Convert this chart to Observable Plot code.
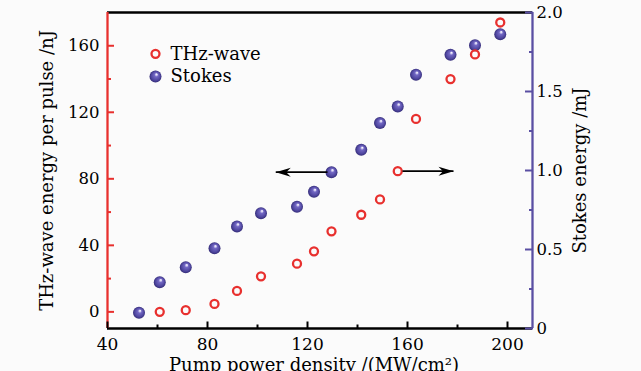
<!DOCTYPE html>
<html>
<head>
<meta charset="utf-8">
<script src="https://cdn.jsdelivr.net/npm/d3@7"></script>
<script src="https://cdn.jsdelivr.net/npm/@observablehq/plot@0.6"></script>
<style>
  html, body { margin: 0; padding: 0; background: #ffffff; }
  #chart svg { display: block; }
</style>
</head>
<body>
<div id="chart"></div>
<script>
// ---- data ----
const pump   = [52.6, 60.9, 71.3, 82.8, 91.8, 101.4, 115.8, 122.6, 129.6, 141.5, 149.0, 156.1, 163.4, 177.2, 187.0, 197.1];
const thz    = [null, 0, 1, 4.8, 12.6, 21.4, 29, 36.4, 48.4, 58.4, 67.6, 84.6, 116, 140, 154.8, 174];      // nJ
const stokes = [0.099, 0.293, 0.388, 0.508, 0.646, 0.73, 0.77, 0.865, 0.989, 1.131, 1.30, 1.405, 1.606, 1.732, 1.793, 1.863]; // mJ

const xDomain = [40, 210];
const yDomain = [-10, 180];     // left axis (nJ)
const rDomain = [0, 2.0];       // right axis (mJ)

const xMajor = [40, 80, 120, 160, 200];
const xMinor = [60, 100, 140, 180];
const yMajor = [0, 40, 80, 120, 160];
const yMinor = [20, 60, 100, 140];
const rMajor = [0, 0.5, 1.0, 1.5, 2.0];
const rMinor = [0.25, 0.75, 1.25, 1.75];
const rLabels = ["0", "0.5", "1.0", "1.5", "2.0"];

const seriesNames = ["THz-wave", "Stokes"];
const xTitle = "Pump power density /(MW/cm\u00B2)";
const yTitle = "THz-wave energy per pulse /nJ";
const rTitle = "Stokes energy /mJ";

// annotation arrows (x from, x to, level in nJ)
const arrows = [
  {x1: 128.0, x2: 107.3, y: 84.0},
  {x1: 158.0, x2: 178.4, y: 84.6}
];

// ---- helpers ----
const toLeft = v => yDomain[0] + (v - rDomain[0]) / (rDomain[1] - rDomain[0]) * (yDomain[1] - yDomain[0]);
const thzData = pump.map((x, i) => ({x, y: thz[i]})).filter(d => d.y != null);
const stokesData = pump.map((x, i) => ({x, y: toLeft(stokes[i])}));

const RED = "#e8302e";
const BLUE = "#5a4fa3";
const FONT = "DejaVu Serif";

const stealth = {
  draw(ctx) {
    ctx.moveTo(0, 0);
    ctx.lineTo(-15, -4.5);
    ctx.lineTo(-10.5, 0);
    ctx.lineTo(-15, 4.5);
    ctx.closePath();
  }
};

const svg = Plot.plot({
  width: 641,
  height: 371,
  marginLeft: 107,
  marginRight: 109,
  marginTop: 12,
  marginBottom: 43,
  style: {fontFamily: FONT, background: "#fbfbfb", color: "black"},
  x: {domain: xDomain},
  y: {domain: yDomain},
  marks: [
    // frame lines
    Plot.ruleY([yDomain[1]], {stroke: "black", strokeWidth: 2.3}),
    Plot.ruleY([yDomain[0]], {stroke: "black", strokeWidth: 2.3}),
    Plot.ruleX([xDomain[0]], {stroke: RED, strokeWidth: 2.3}),
    Plot.ruleX([xDomain[1]], {stroke: BLUE, strokeWidth: 2.3}),

    // bottom axis
    Plot.axisX(xMajor, {anchor: "bottom", tickSize: -6.5, fill: "none", stroke: "black", strokeWidth: 2, label: null}),
    Plot.axisX(xMinor, {anchor: "bottom", tickSize: -3.5, fill: "none", stroke: "black", strokeWidth: 2, label: null}),
    Plot.axisX(xMajor, {anchor: "bottom", tickSize: 0, tickPadding: 9, fontSize: 17, fill: "black", label: null}),

    // left axis (THz)
    Plot.axisY(yMajor, {anchor: "left", tickSize: -7, fill: "none", stroke: RED, strokeWidth: 2, label: null}),
    Plot.axisY(yMinor, {anchor: "left", tickSize: -4, fill: "none", stroke: RED, strokeWidth: 2, label: null}),
    Plot.axisY(yMajor, {anchor: "left", tickSize: 0, tickPadding: 8, fontSize: 16.5, fill: "black", label: null}),

    // right axis (Stokes)
    Plot.axisY(rMajor.map(toLeft), {anchor: "right", tickSize: -8, fill: "none", stroke: BLUE, strokeWidth: 2, label: null}),
    Plot.axisY(rMinor.map(toLeft), {anchor: "right", tickSize: -4, fill: "none", stroke: BLUE, strokeWidth: 2, label: null}),
    Plot.axisY(rMajor.map(toLeft), {anchor: "right", tickSize: 0, tickPadding: 4, fontSize: 16.5, fill: "black", label: null,
      tickFormat: (d, i) => rLabels[i]}),

    // axis titles
    Plot.text([yTitle], {frameAnchor: "left", dx: -60, rotate: -90, textAnchor: "middle", lineAnchor: "middle", fontSize: 18, text: d => d, fill: "black"}),
    Plot.text([rTitle], {frameAnchor: "right", dx: 48, rotate: -90, textAnchor: "middle", lineAnchor: "middle", fontSize: 18, text: d => d, fill: "black"}),
    Plot.text([xTitle], {frameAnchor: "bottom", dx: -6, dy: 37, textAnchor: "middle", lineAnchor: "middle", fontSize: 18, text: d => d, fill: "black"}),

    // data
    Plot.dot(stokesData, {x: "x", y: "y", r: 6, fill: "url(#sphere)", stroke: "none"}),
    Plot.dot(thzData, {x: "x", y: "y", r: 4, fill: "none", stroke: RED, strokeWidth: 2.3}),

    // arrows
    Plot.link(arrows, {x1: "x1", x2: "x2", y1: "y", y2: "y", stroke: "black", strokeWidth: 1.6}),
    Plot.dot(arrows, {x: "x2", y: "y", symbol: stealth, fill: "black", stroke: "none",
      rotate: d => d.x2 < d.x1 ? 180 : 0}),

    // legend
    Plot.dot([seriesNames[0]], {frameAnchor: "top-left", dx: 48, dy: 41.3, r: 4, fill: "none", stroke: RED, strokeWidth: 2.3}),
    Plot.dot([seriesNames[1]], {frameAnchor: "top-left", dx: 48, dy: 64, r: 6, fill: "url(#sphere)", stroke: "none"}),
    Plot.text([seriesNames[0]], {frameAnchor: "top-left", dx: 63, dy: 41.3, textAnchor: "start", lineAnchor: "middle", fontSize: 18, text: d => d, fill: "black"}),
    Plot.text([seriesNames[1]], {frameAnchor: "top-left", dx: 63, dy: 64, textAnchor: "start", lineAnchor: "middle", fontSize: 18, text: d => d, fill: "black"})
  ]
});

// sphere shading gradient
const defs = d3.select(svg).insert("defs", ":first-child");
const grad = defs.append("radialGradient")
  .attr("id", "sphere")
  .attr("cx", "0.5").attr("cy", "0.5").attr("r", "0.5")
  .attr("fx", "0.6").attr("fy", "0.3");
[[0, "#ffffff"], [0.14, "#d4cff2"], [0.32, "#7368c4"], [0.75, "#5047a0"], [1, "#342c78"]]
  .forEach(([o, c]) => grad.append("stop").attr("offset", o).attr("stop-color", c));

document.getElementById("chart").appendChild(svg);
</script>
</body>
</html>
